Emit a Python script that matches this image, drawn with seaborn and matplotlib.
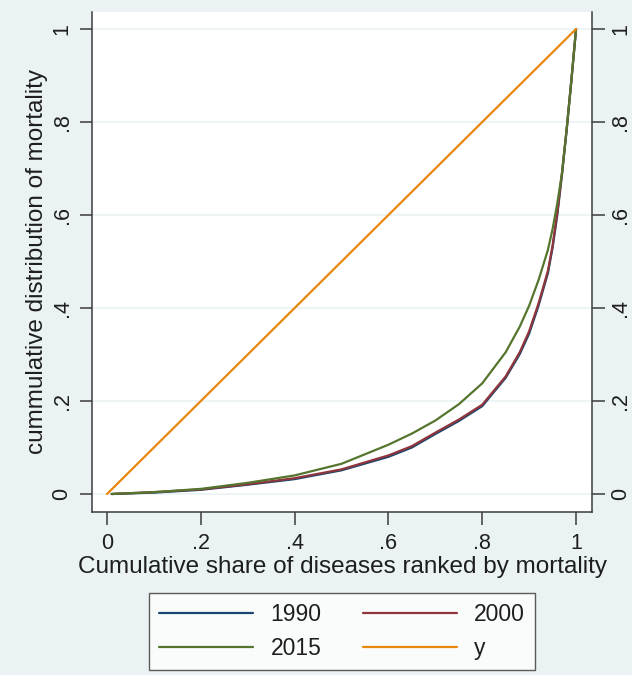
import numpy as np
import pandas as pd
import matplotlib
matplotlib.use("Agg")
import matplotlib.pyplot as plt
from matplotlib.lines import Line2D
import seaborn as sns

# ---- data ----
share = [0.01, 0.1, 0.2, 0.3, 0.4, 0.5, 0.6, 0.65, 0.7, 0.75, 0.8, 0.85,
         0.88, 0.9, 0.92, 0.94, 0.95, 0.96, 0.97, 0.98, 0.99, 1.0]
mort_1990 = [0.0, 0.003, 0.009, 0.020, 0.032, 0.051, 0.080, 0.100, 0.129, 0.157,
             0.189, 0.250, 0.301, 0.345, 0.405, 0.475, 0.530, 0.600, 0.687, 0.783, 0.888, 1.0]
mort_2000 = [0.0, 0.004, 0.010, 0.021, 0.034, 0.053, 0.083, 0.103, 0.132, 0.160,
             0.192, 0.253, 0.305, 0.350, 0.410, 0.480, 0.535, 0.605, 0.690, 0.785, 0.890, 1.0]
mort_2015 = [0.0, 0.004, 0.011, 0.024, 0.040, 0.065, 0.106, 0.130, 0.158, 0.193,
             0.238, 0.305, 0.360, 0.405, 0.460, 0.525, 0.570, 0.625, 0.690, 0.785, 0.890, 1.0]
eq_x = [0.0, 1.0]
eq_y = [0.0, 1.0]
series_names = ["1990", "2000", "2015", "y"]
tick_vals = [0, 0.2, 0.4, 0.6, 0.8, 1.0]
tick_labels = ["0", ".2", ".4", ".6", ".8", "1"]

colors = {"1990": "#1a476f", "2000": "#90353b", "2015": "#55752f", "y": "#e8870e"}

df = pd.concat([
    pd.DataFrame({"x": share, "y": mort_1990, "series": "1990"}),
    pd.DataFrame({"x": share, "y": mort_2000, "series": "2000"}),
    pd.DataFrame({"x": share, "y": mort_2015, "series": "2015"}),
    pd.DataFrame({"x": eq_x, "y": eq_y, "series": "y"}),
], ignore_index=True)

sns.set_theme(style="white")
plt.rcParams["font.family"] = ["Liberation Sans", "DejaVu Sans"]

bg = "#eaf2f3"
txt = "#1e1e1e"
axis_col = "#3c3c3c"
fig = plt.figure(figsize=(6.32, 6.75), dpi=100, facecolor=bg)
ax = fig.add_axes([92 / 632, 1 - 512 / 675, 500 / 632, 500 / 675])
ax.set_facecolor("white")

sns.lineplot(data=df, x="x", y="y", hue="series", hue_order=series_names,
             palette=colors, linewidth=1.6, ax=ax, legend=False,
             sort=False, estimator=None)

xlim = (-0.032, 1.034)
ylim = (-0.0387, 1.0366)
ax.set_xlim(*xlim)
ax.set_ylim(*ylim)

for yv in tick_vals:
    ax.axhline(yv, color=bg, lw=1.2, zorder=0)

for s in ["left", "right", "bottom"]:
    ax.spines[s].set_color(axis_col)
    ax.spines[s].set_linewidth(1.1)
ax.spines["top"].set_visible(False)

ax.set_xticks(tick_vals)
ax.set_xticklabels(tick_labels, fontsize=15.5)
ax.set_yticks(tick_vals)
ax.set_yticklabels(tick_labels, fontsize=15.5, rotation=90, va="center")
ax.tick_params(axis="both", direction="out", length=9, width=1.1, color=axis_col,
               labelcolor=txt)
ax.tick_params(axis="x", bottom=True, pad=6)
ax.tick_params(axis="y", left=True, pad=5)

ax2 = ax.twinx()
ax2.set_ylim(*ylim)
ax2.set_yticks(tick_vals)
ax2.set_yticklabels(tick_labels, fontsize=15.5, rotation=90, va="center")
ax2.tick_params(axis="y", direction="out", length=9, width=1.1, color=axis_col,
                labelcolor=txt, pad=4, right=True)
for s in ax2.spines.values():
    s.set_visible(False)

ax.set_xlabel("Cumulative share of diseases ranked by mortality", fontsize=17.5,
              color=txt, va="center")
ax.xaxis.set_label_coords(0.5, (512 - 567) / 500)
ax.set_ylabel("cummulative distribution of mortality", fontsize=17.5,
              color=txt, va="center")
ax.yaxis.set_label_coords((37 - 92) / 500, 0.5)

order = ["1990", "2015", "2000", "y"]
handles = [Line2D([0], [0], color=colors[n], lw=1.6) for n in order]
leg = fig.legend(handles, order, loc="lower center",
                 bbox_to_anchor=(342 / 632, 5 / 675), ncol=2, fontsize=16.5,
                 frameon=True, fancybox=False, edgecolor="#333333",
                 handlelength=4.1, handletextpad=0.75, columnspacing=1.8,
                 labelspacing=0.45, borderpad=0.45, borderaxespad=0)
leg.get_frame().set_linewidth(1.0)
leg.get_frame().set_facecolor("white")
for t in leg.get_texts():
    t.set_color(txt)

fig.savefig("out.png", dpi=100, facecolor=bg)
